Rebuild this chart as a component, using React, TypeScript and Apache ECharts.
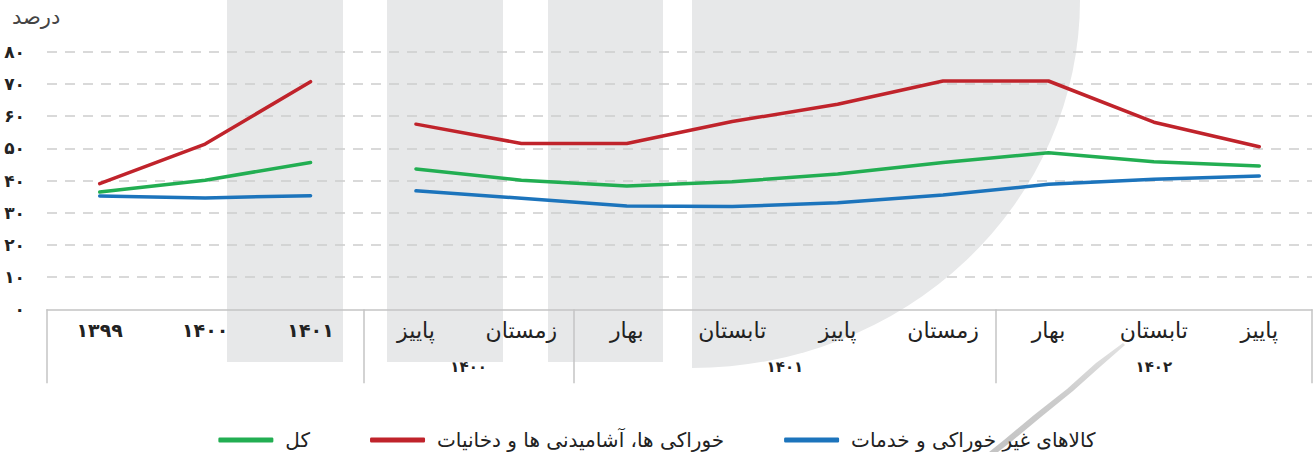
import React, { useEffect, useRef } from 'react';
import * as echarts from 'echarts';

// ---------- data ----------
const periods = [
  '۱۳۹۹', '۱۴۰۰', '۱۴۰۱',
  'پاییز ۱۴۰۰', 'زمستان ۱۴۰۰',
  'بهار ۱۴۰۱', 'تابستان ۱۴۰۱', 'پاییز ۱۴۰۱', 'زمستان ۱۴۰۱',
  'بهار ۱۴۰۲', 'تابستان ۱۴۰۲', 'پاییز ۱۴۰۲',
];
const annualCount = 3;

const groupLabels = ['۱۴۰۰', '۱۴۰۱', '۱۴۰۲'];
const groupFrom = [3, 5, 9];
const groupTo = [4, 8, 11];
const separatorIndexes = [0, 3, 5, 9];

const yTickLabels = ['۰', '۱۰', '۲۰', '۳۰', '۴۰', '۵۰', '۶۰', '۷۰', '۸۰'];

const nameTotal = 'کل';
const nameFood = 'خوراکی ها، آشامیدنی ها و دخانیات';
const nameNonFood = 'کالاهای غیر خوراکی و خدمات';

const totalValues = [36.4, 40.1, 45.6, 43.6, 40.1, 38.3, 39.6, 42.0, 45.6, 48.6, 45.8, 44.5];
const foodValues = [39.0, 51.3, 70.7, 57.5, 51.5, 51.5, 58.3, 63.7, 70.9, 70.9, 58.1, 50.5];
const nonFoodValues = [35.2, 34.6, 35.3, 36.8, 34.5, 32.1, 31.9, 33.1, 35.5, 38.8, 40.4, 41.4];

const colorTotal = '#22AE52';
const colorFood = '#C0232B';
const colorNonFood = '#1C74BC';

// ---------- background watermark shape ----------
echarts.graphic.registerShape(
  'bgArc',
  echarts.graphic.extendPath('M 692 0 L 1080 0 A 388 368 0 0 1 692 368 Z', {})
);

const FONT = '"DejaVu Sans", "Noto Sans", sans-serif';

function splitSeries(name: string, values: number[], color: string) {
  const annual = values.map((v, i) => (i < annualCount ? v : '-'));
  const quarterly = values.map((v, i) => (i >= annualCount ? v : '-'));
  const base = {
    name,
    type: 'line',
    symbol: 'none',
    smooth: false,
    lineStyle: { color, width: 3.5, cap: 'round', join: 'round' },
    itemStyle: { color },
    z: 3,
  };
  return [
    { ...base, data: annual },
    { ...base, data: quarterly },
  ];
}

export default function App() {
  const ref = useRef<HTMLDivElement>(null);

  useEffect(() => {
    document.body.style.margin = '0';
    const chart = echarts.init(ref.current!, null, { renderer: 'svg' });

    const bgColor = '#E7E8E9';
    const background: any[] = [
      { type: 'rect', shape: { x: 227, y: 0, width: 116, height: 362 }, style: { fill: bgColor }, z: -10, silent: true },
      { type: 'rect', shape: { x: 387, y: 0, width: 116, height: 362 }, style: { fill: bgColor }, z: -10, silent: true },
      { type: 'rect', shape: { x: 548, y: 0, width: 115, height: 362 }, style: { fill: bgColor }, z: -10, silent: true },
      { type: 'bgArc', x: 0, y: 0, style: { fill: bgColor }, z: -10, silent: true },
      {
        type: 'polygon',
        shape: {
          points: [
            [1123, 343], [1096, 363], [1067, 389], [1034, 415], [1004, 440], [989, 452],
            [998, 452], [1012, 441], [1041, 417], [1073, 391], [1101, 366], [1125, 345],
          ],
        },
        style: {
          fill: new echarts.graphic.LinearGradient(0, 0, 0, 1, [
            { offset: 0, color: '#E2E2E2' },
            { offset: 0.5, color: '#CCCCCC' },
            { offset: 1, color: '#C4C4C4' },
          ]),
        },
        z: -10,
        silent: true,
      },
    ];

    const option: any = {
      animation: false,
      backgroundColor: '#ffffff',
      textStyle: { fontFamily: FONT },
      title: {
        text: 'درصد',
        left: 7,
        top: 1,
        textStyle: { fontSize: 21, fontWeight: 'normal', color: '#444', fontFamily: FONT },
      },
      grid: { left: 47, right: 2, top: 51.7, bottom: 142.7, containLabel: false },
      legend: {
        data: [nameTotal, nameFood, nameNonFood],
        left: 'center',
        top: 425,
        icon: 'roundRect',
        itemWidth: 55,
        itemHeight: 5,
        itemGap: 60,
        textStyle: { fontSize: 20, color: '#222', fontFamily: FONT, padding: [0, 0, 0, 7] },
      },
      xAxis: {
        type: 'category',
        data: periods,
        boundaryGap: true,
        axisLine: { show: true, lineStyle: { color: '#C4C4C4', width: 1.5 } },
        axisTick: {
          show: true,
          interval: (index: number) => separatorIndexes.includes(index),
          length: 74,
          lineStyle: { color: '#C4C4C4', width: 1.5 },
        },
        axisLabel: {
          interval: 0,
          margin: 9,
          formatter: (v: string) =>
            v.includes(' ') ? `{s|${v.split(' ')[0]}}` : `{y|${v}}`,
          rich: {
            s: { fontSize: 22, color: '#222', fontFamily: FONT, height: 24 },
            y: { fontSize: 19, fontWeight: 'bold', color: '#222', fontFamily: FONT, height: 24 },
          },
        },
        splitLine: { show: false },
      },
      yAxis: {
        type: 'value',
        min: 0,
        max: 80,
        interval: 10,
        axisLine: { show: false },
        axisTick: { show: false },
        axisLabel: {
          margin: 22,
          fontSize: 17,
          fontWeight: 'bold',
          color: '#222',
          fontFamily: FONT,
          formatter: (v: number) => yTickLabels[Math.round(v / 10)],
        },
        splitLine: {
          show: true,
          showMinLine: false,
          lineStyle: { color: '#CDCDCD', width: 1.5, type: [10, 8] },
        },
      },
      series: [
        ...splitSeries(nameTotal, totalValues, colorTotal),
        ...splitSeries(nameFood, foodValues, colorFood),
        ...splitSeries(nameNonFood, nonFoodValues, colorNonFood),
      ],
      graphic: { elements: background },
    };

    chart.setOption(option);

    // group labels (second row) centred under each group of categories
    const groupTexts = groupLabels.map((label, gi) => {
      const x1 = chart.convertToPixel({ xAxisIndex: 0 }, groupFrom[gi]) as number;
      const x2 = chart.convertToPixel({ xAxisIndex: 0 }, groupTo[gi]) as number;
      return {
        type: 'text',
        x: (x1 + x2) / 2,
        y: 367,
        style: {
          text: label,
          fontSize: 15,
          fontWeight: 'bold',
          fill: '#222',
          fontFamily: FONT,
          align: 'center',
          verticalAlign: 'middle',
        },
        z: 5,
      };
    });

    chart.setOption({ graphic: { elements: [...background, ...groupTexts] } });

    return () => chart.dispose();
  }, []);

  return (
    <div
      ref={ref}
      style={{ position: 'absolute', left: 0, top: 0, width: 1314, height: 452 }}
    />
  );
}
